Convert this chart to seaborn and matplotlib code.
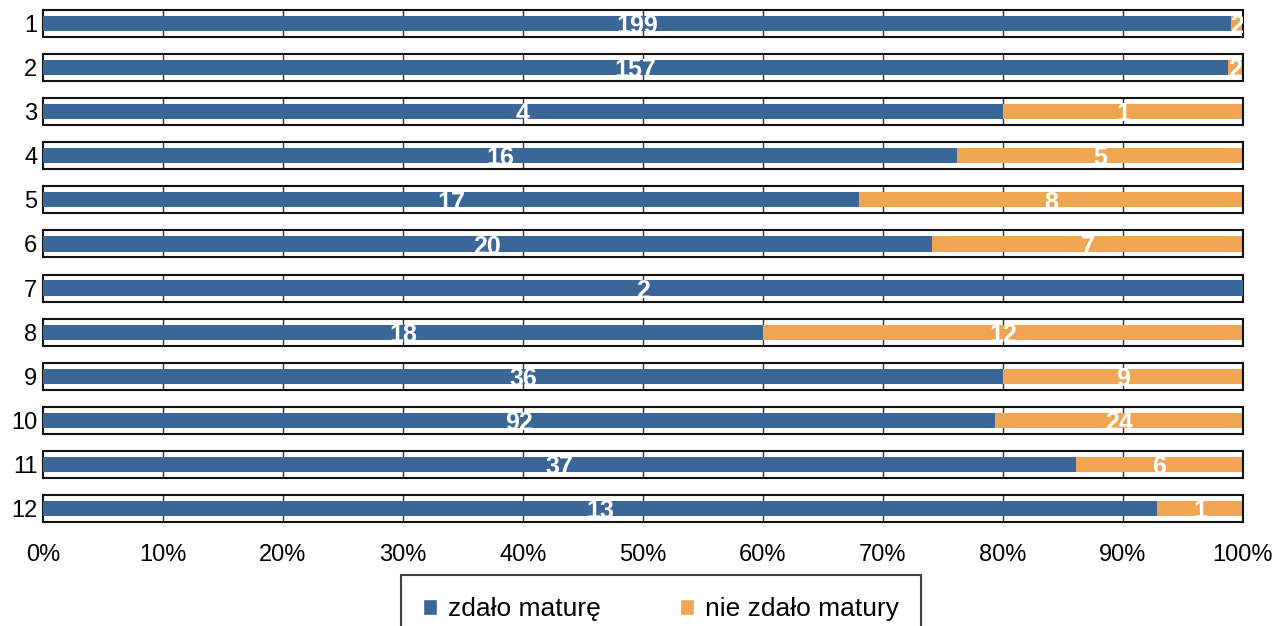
import matplotlib
matplotlib.use('Agg')
import matplotlib.pyplot as plt
from matplotlib.patches import Patch
import pandas as pd
import seaborn as sns

rows = ['1', '2', '3', '4', '5', '6', '7', '8', '9', '10', '11', '12']
passed = [199, 157, 4, 16, 17, 20, 2, 18, 36, 92, 37, 13]
failed = [2, 2, 1, 5, 8, 7, 0, 12, 9, 24, 6, 1]
ticks = [0, 10, 20, 30, 40, 50, 60, 70, 80, 90, 100]
tick_labels = [f'{t}%' for t in ticks]

BLUE = '#3b6698'
ORANGE = '#f0a552'

df = pd.DataFrame({'row': rows, 'passed': passed, 'failed': failed})
df['total'] = df['passed'] + df['failed']
df['p_pass'] = df['passed'] / df['total'] * 100
df['p_all'] = 100.0

sns.set_style('white')
plt.rcParams['font.family'] = ['Liberation Sans', 'DejaVu Sans']
plt.rcParams['text.color'] = 'black'
plt.rcParams['xtick.color'] = 'black'
plt.rcParams['ytick.color'] = 'black'

fig, axes = plt.subplots(12, 1, figsize=(12.86, 6.26), dpi=100, sharex=True)
plt.subplots_adjust(left=43/1286, right=1243/1286, top=1-10/626, bottom=1-522/626, hspace=0.63)

for i, ax in enumerate(axes):
    r = df.iloc[[i]]
    for t in ticks[1:-1]:
        ax.axvline(t, color='#333333', lw=1.0, zorder=0)
    sns.barplot(x=r['p_all'].values, y=[0], orient='h', color=ORANGE, width=0.56,
                ax=ax, saturation=1, linewidth=0, zorder=2)
    sns.barplot(x=r['p_pass'].values, y=[0], orient='h', color=BLUE, width=0.56,
                ax=ax, saturation=1, linewidth=0, zorder=3)
    ax.set_xlim(0, 100)
    ax.set_ylim(0.5, -0.5)
    ax.set_yticks([0])
    ax.set_yticklabels([rows[i]], fontsize=17)
    ax.tick_params(axis='y', length=0, pad=4)
    ax.tick_params(axis='x', length=0, pad=16)
    for s in ax.spines.values():
        s.set_color('#111111')
        s.set_linewidth(1.5)
    pp = r['p_pass'].values[0]
    ax.text(pp / 2, 0.1, str(passed[i]), color='white', fontsize=18, fontweight='bold',
            ha='center', va='center', zorder=5, clip_on=True)
    if failed[i] > 0:
        ax.text(pp + (100 - pp) / 2, 0.1, str(failed[i]), color='white', fontsize=18,
                fontweight='bold', ha='center', va='center', zorder=5, clip_on=True)
    ax.set_xlabel('')
    ax.set_ylabel('')

axes[-1].set_xticks(ticks)
axes[-1].set_xticklabels(tick_labels, fontsize=17)

handles = [Patch(facecolor=BLUE, label='zdało maturę'),
           Patch(facecolor=ORANGE, label='nie zdało matury')]
leg = fig.legend(handles=handles, loc='upper center', bbox_to_anchor=(0.514, 0.082),
                 ncol=2, frameon=True, fancybox=False, fontsize=19, handlelength=0.55,
                 handleheight=0.55, columnspacing=3.0, handletextpad=0.4, borderpad=0.85,
                 borderaxespad=0)
leg.get_frame().set_edgecolor('#111111')
leg.get_frame().set_linewidth(1.5)

fig.savefig('out.png', dpi=100)
